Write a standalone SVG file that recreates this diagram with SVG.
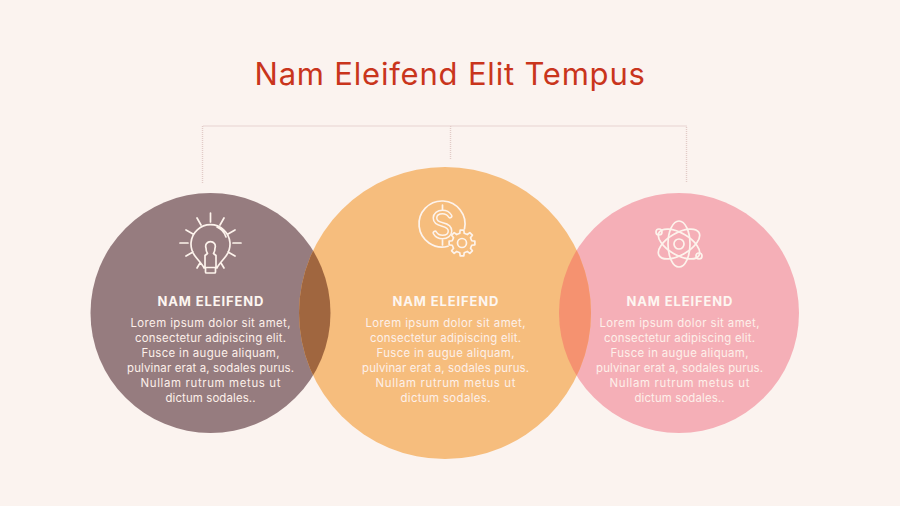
<svg xmlns="http://www.w3.org/2000/svg" width="900" height="506" viewBox="0 0 900 506">
<style>
text{font-family:Inter,"Open Sans","Liberation Sans",sans-serif;text-anchor:middle}
.t{font-size:31px;fill:#c9351c;letter-spacing:.6px}
.h{font-size:13px;font-weight:700;fill:#fdf6f1}
.b{font-size:11.4px;fill:#fdf0ea}
.i{fill:none;stroke:#fdf3ec;stroke-width:1.7;stroke-linecap:round;stroke-linejoin:round}
.c{fill:none;stroke:#e2cbc7;stroke-width:1.400;stroke-dasharray:1 1}
</style>
<defs>
<clipPath id="cm"><circle cx="445" cy="313" r="146"/></clipPath>
</defs>
<rect width="900" height="506" fill="#fbf3ef"/>
<text class="t" x="450" y="85" textLength="391">Nam Eleifend Elit Tempus</text>
<g id="connectors">
<path class="c" d="M202.500 183V126H686.500V183M450.500 126V160"/>
</g>
<g id="node-left">
<circle cx="210.500" cy="313" r="120" fill="#967c7f"/>
<path class="i" d="M204 268c-1-3-6-8-9-12a19.500 19.500 0 1 1 31 0c-3 4-8 9-9 12M217 227a16 16 0 0 1 9 10M210.500 213v9M197 218l4 7M224 218l-4 7M186 230l7 4M235 230l-7 4M180 243h8M233 243h8M186 256l7-4M235 256l-7-4M197 268l3-5M224 268l-3-5M206 248a4.800 4.800 0 1 1 9 0c0 2-.5 4-1.500 5.500l2.500 2v12h-11v-12l2.500-2c-1-1.500-1.500-3.500-1.500-5.500zM205.500 268v4a1 1 0 0 0 1 1h8a1 1 0 0 0 1-1v-4"/>
<text class="h" x="210.500" y="306" textLength="106">NAM ELEIFEND</text>
<text class="b" x="210.500" y="327" textLength="160">Lorem ipsum dolor sit amet,</text>
<text class="b" x="210.500" y="342" textLength="151">consectetur adipiscing elit.</text>
<text class="b" x="210.500" y="357" textLength="138">Fusce in augue aliquam,</text>
<text class="b" x="210.500" y="372" textLength="167">pulvinar erat a, sodales purus.</text>
<text class="b" x="210.500" y="387" textLength="140">Nullam rutrum metus ut</text>
<text class="b" x="210.500" y="402" textLength="90">dictum sodales..</text>
</g>
<g id="node-right">
<circle cx="679" cy="313" r="120" fill="#f5afb7"/>
<g class="i">
<ellipse cx="679" cy="244" rx="11" ry="23"/>
<ellipse cx="679" cy="244" rx="11" ry="23" transform="rotate(60 679 244)"/>
<ellipse cx="679" cy="244" rx="11" ry="23" transform="rotate(-60 679 244)"/>
<circle cx="679" cy="244" r="5"/>
<circle cx="659" cy="232" r="3"/>
<circle cx="699" cy="256" r="3"/>
</g>
<text class="h" x="679.500" y="306" textLength="106">NAM ELEIFEND</text>
<text class="b" x="679.500" y="327" textLength="160">Lorem ipsum dolor sit amet,</text>
<text class="b" x="679.500" y="342" textLength="151">consectetur adipiscing elit.</text>
<text class="b" x="679.500" y="357" textLength="138">Fusce in augue aliquam,</text>
<text class="b" x="679.500" y="372" textLength="167">pulvinar erat a, sodales purus.</text>
<text class="b" x="679.500" y="387" textLength="140">Nullam rutrum metus ut</text>
<text class="b" x="679.500" y="402" textLength="90">dictum sodales..</text>
</g>
<g id="node-middle">
<circle cx="445" cy="313" r="146" fill="#f6bd7d"/>
<circle cx="210.500" cy="313" r="120" fill="#a0663f" clip-path="url(#cm)"/>
<circle cx="679" cy="313" r="120" fill="#f59270" clip-path="url(#cm)"/>
<path class="i" d="M464.500 228.800A23 23 0 1 0 448 246.200"/>
<path d="M450 216c-1.500-2.500-4-4-7.500-4-4.500 0-7.500 2.500-7.500 6s3 5.500 7.500 6.500 7.500 3 7.500 6.500-3 6-7.500 6c-3.500 0-6-1.500-7.500-4" fill="none" stroke="#fdf3ec" stroke-width="5" stroke-linecap="round"/>
<path d="M450 216c-1.500-2.500-4-4-7.500-4-4.500 0-7.500 2.500-7.500 6s3 5.500 7.500 6.500 7.500 3 7.500 6.500-3 6-7.500 6c-3.500 0-6-1.500-7.500-4" fill="none" stroke="#f6bd7d" stroke-width="2" stroke-linecap="round"/>
<path class="i" d="M442.500 205v5M442.500 240v5"/>
<polygon class="i" transform="translate(462 243)" points="9.740,-2.250 12.870,-1.810 12.870,1.810 9.740,2.250 8.480,5.300 10.380,7.820 7.820,10.380 5.300,8.480 2.250,9.740 1.810,12.870 -1.810,12.870 -2.250,9.740 -5.300,8.480 -7.820,10.380 -10.380,7.820 -8.480,5.300 -9.740,2.250 -12.870,1.810 -12.870,-1.810 -9.740,-2.250 -8.480,-5.300 -10.380,-7.820 -7.820,-10.380 -5.300,-8.480 -2.250,-9.740 -1.810,-12.870 1.810,-12.870 2.250,-9.740 5.300,-8.480 7.820,-10.380 10.380,-7.820 8.480,-5.300"/>
<circle class="i" cx="462" cy="243" r="4.500"/>
<text class="h" x="445.500" y="306" textLength="106">NAM ELEIFEND</text>
<text class="b" x="445.500" y="327" textLength="160">Lorem ipsum dolor sit amet,</text>
<text class="b" x="445.500" y="342" textLength="151">consectetur adipiscing elit.</text>
<text class="b" x="445.500" y="357" textLength="138">Fusce in augue aliquam,</text>
<text class="b" x="445.500" y="372" textLength="167">pulvinar erat a, sodales purus.</text>
<text class="b" x="445.500" y="387" textLength="140">Nullam rutrum metus ut</text>
<text class="b" x="445.500" y="402" textLength="90">dictum sodales.</text>
</g>
</svg>
